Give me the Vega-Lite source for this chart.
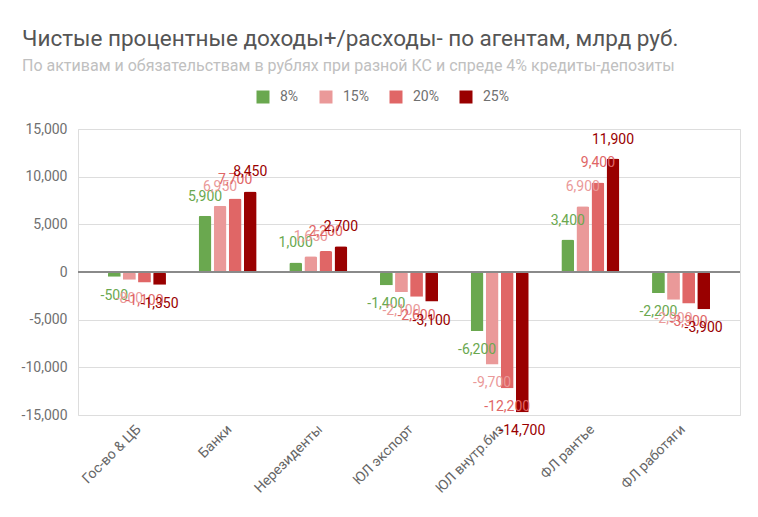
{
  "$schema": "https://vega.github.io/schema/vega-lite/v6.json",
  "width": 662,
  "height": 286,
  "autosize": {"type": "none"},
  "padding": {"left": 78, "top": 129, "right": 18, "bottom": 102},
  "background": "white",
  "title": {
    "text": "Чистые процентные доходы+/расходы- по агентам, млрд руб.",
    "subtitle": "По активам и обязательствам в рублях при разной КС и спреде 4% кредиты-депозиты",
    "anchor": "start",
    "frame": "group",
    "dx": -56,
    "offset": 16,
    "font": "Roboto",
    "fontSize": 22.5,
    "fontWeight": "normal",
    "color": "#555555",
    "subtitleFont": "Roboto",
    "subtitleFontSize": 16,
    "subtitleColor": "#c0c0c0",
    "subtitlePadding": 8
  },
  "data": {
    "values": [
      {"agent": "Гос-во & ЦБ", "rate": "8%", "value": -500},
      {"agent": "Гос-во & ЦБ", "rate": "15%", "value": -800},
      {"agent": "Гос-во & ЦБ", "rate": "20%", "value": -1100},
      {"agent": "Гос-во & ЦБ", "rate": "25%", "value": -1350},
      {"agent": "Банки", "rate": "8%", "value": 5900},
      {"agent": "Банки", "rate": "15%", "value": 6950},
      {"agent": "Банки", "rate": "20%", "value": 7700},
      {"agent": "Банки", "rate": "25%", "value": 8450},
      {"agent": "Нерезиденты", "rate": "8%", "value": 1000},
      {"agent": "Нерезиденты", "rate": "15%", "value": 1650},
      {"agent": "Нерезиденты", "rate": "20%", "value": 2200},
      {"agent": "Нерезиденты", "rate": "25%", "value": 2700},
      {"agent": "ЮЛ экспорт", "rate": "8%", "value": -1400},
      {"agent": "ЮЛ экспорт", "rate": "15%", "value": -2100},
      {"agent": "ЮЛ экспорт", "rate": "20%", "value": -2600},
      {"agent": "ЮЛ экспорт", "rate": "25%", "value": -3100},
      {"agent": "ЮЛ внутр.биз", "rate": "8%", "value": -6200},
      {"agent": "ЮЛ внутр.биз", "rate": "15%", "value": -9700},
      {"agent": "ЮЛ внутр.биз", "rate": "20%", "value": -12200},
      {"agent": "ЮЛ внутр.биз", "rate": "25%", "value": -14700},
      {"agent": "ФЛ рантье", "rate": "8%", "value": 3400},
      {"agent": "ФЛ рантье", "rate": "15%", "value": 6900},
      {"agent": "ФЛ рантье", "rate": "20%", "value": 9400},
      {"agent": "ФЛ рантье", "rate": "25%", "value": 11900},
      {"agent": "ФЛ работяги", "rate": "8%", "value": -2200},
      {"agent": "ФЛ работяги", "rate": "15%", "value": -2900},
      {"agent": "ФЛ работяги", "rate": "20%", "value": -3300},
      {"agent": "ФЛ работяги", "rate": "25%", "value": -3900}
    ]
  },
  "transform": [
    {"calculate": "replace(format(datum.value, ','), '\u2212', '-')", "as": "label"}
  ],
  "encoding": {
    "x": {
      "field": "agent",
      "type": "nominal",
      "sort": null,
      "title": null,
      "scale": {"paddingInner": 0.36, "paddingOuter": 0.33},
      "axis": {
        "labelAngle": -45,
        "labelAlign": "right",
        "labelBaseline": "middle",
        "labelPadding": 12,
        "labelOffset": 2,
        "labelFont": "Roboto",
        "labelFontSize": 14,
        "labelColor": "#666666",
        "ticks": false,
        "domain": false,
        "grid": false
      }
    },
    "xOffset": {
      "field": "rate",
      "type": "nominal",
      "sort": ["8%", "15%", "20%", "25%"],
      "scale": {"paddingInner": 0.15}
    },
    "y": {
      "field": "value",
      "type": "quantitative",
      "title": null,
      "scale": {"domain": [-15000, 15000], "nice": false},
      "axis": {
        "values": [-15000, -10000, -5000, 0, 5000, 10000, 15000],
        "labelExpr": "replace(format(datum.value, ','), '\u2212', '-')",
        "labelFont": "Roboto",
        "labelFontSize": 14,
        "labelColor": "#707070",
        "labelPadding": 11,
        "ticks": false,
        "domain": false,
        "gridColor": "#dddddd"
      }
    },
    "color": {
      "field": "rate",
      "type": "nominal",
      "sort": ["8%", "15%", "20%", "25%"],
      "scale": {
        "domain": ["8%", "15%", "20%", "25%"],
        "range": ["#6aa84f", "#ea9999", "#e06666", "#990000"]
      },
      "legend": {
        "title": null,
        "orient": "none",
        "direction": "horizontal",
        "legendX": 178,
        "legendY": -39,
        "gridAlign": "none",
        "symbolType": "square",
        "symbolSize": 169,
        "symbolStrokeWidth": 0,
        "labelFont": "Roboto",
        "labelFontSize": 14,
        "labelColor": "#707070",
        "labelOffset": 10,
        "columnPadding": 20
      }
    }
  },
  "layer": [
    {"mark": {"type": "bar", "cornerRadiusEnd": 2}},
    {
      "transform": [{"filter": "datum.value >= 0"}],
      "mark": {"type": "text", "baseline": "bottom", "dy": -12, "font": "Roboto", "fontSize": 14},
      "encoding": {"text": {"field": "label", "type": "nominal"}}
    },
    {
      "transform": [{"filter": "datum.value < 0"}],
      "mark": {"type": "text", "baseline": "top", "dy": 12, "font": "Roboto", "fontSize": 14},
      "encoding": {"text": {"field": "label", "type": "nominal"}}
    },
    {
      "mark": {"type": "rule", "color": "#8a8a8a", "strokeWidth": 1.5},
      "encoding": {"y": {"datum": 0}, "x": null, "xOffset": null, "color": null}
    }
  ]
}
